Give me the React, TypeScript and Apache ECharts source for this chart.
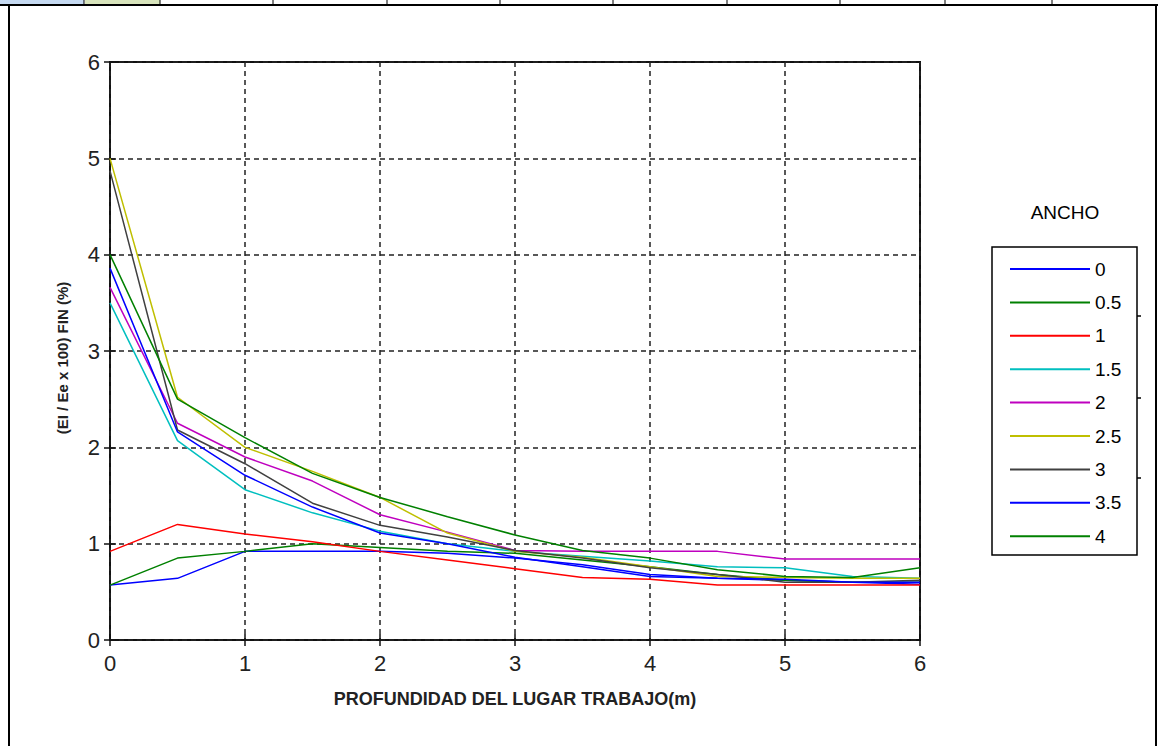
import React, { useEffect, useRef } from "react";
import * as echarts from "echarts";

const xValues = [0, 0.5, 1, 1.5, 2, 2.5, 3, 3.5, 4, 4.5, 5, 5.5, 6];
const seriesNames = ["0", "0.5", "1", "1.5", "2", "2.5", "3", "3.5", "4"];
const seriesColors = ["#0000ff", "#008000", "#ff0000", "#00bfbf", "#bf00bf", "#bfbf00", "#404040", "#0000ff", "#008000"];

const ancho0 = [0.57, 0.64, 0.92, 0.92, 0.92, 0.9, 0.85, 0.78, 0.68, 0.64, 0.62, 0.6, 0.58];
const ancho05 = [0.57, 0.85, 0.92, 1.0, 0.96, 0.92, 0.9, 0.83, 0.76, 0.68, 0.62, 0.6, 0.6];
const ancho1 = [0.92, 1.2, 1.1, 1.02, 0.92, 0.83, 0.74, 0.65, 0.63, 0.57, 0.57, 0.57, 0.57];
const ancho15 = [3.5, 2.07, 1.56, 1.32, 1.13, 1.0, 0.92, 0.87, 0.82, 0.76, 0.75, 0.66, 0.64];
const ancho2 = [3.66, 2.25, 1.9, 1.65, 1.3, 1.12, 0.93, 0.92, 0.92, 0.92, 0.84, 0.84, 0.84];
const ancho25 = [5.0, 2.52, 2.0, 1.75, 1.48, 1.11, 0.92, 0.86, 0.76, 0.66, 0.65, 0.64, 0.64];
const ancho3 = [4.87, 2.18, 1.83, 1.42, 1.19, 1.07, 0.93, 0.85, 0.75, 0.68, 0.6, 0.6, 0.62];
const ancho35 = [3.86, 2.16, 1.71, 1.38, 1.11, 1.0, 0.86, 0.76, 0.66, 0.64, 0.63, 0.6, 0.6];
const ancho4 = [4.0, 2.5, 2.1, 1.73, 1.48, 1.28, 1.09, 0.93, 0.85, 0.73, 0.66, 0.65, 0.75];
const seriesValues = [ancho0, ancho05, ancho1, ancho15, ancho2, ancho25, ancho3, ancho35, ancho4];

const xTitle = "PROFUNDIDAD DEL LUGAR TRABAJO(m)";
const yTitle = "(EI / Ee x 100) FIN (%)";
const legendTitle = "ANCHO";

export default function App() {
  const ref = useRef<HTMLDivElement>(null);
  useEffect(() => {
    document.body.style.margin = "0";
    const chart = echarts.init(ref.current!, null, { renderer: "svg" });
    const font = "Arial, 'Liberation Sans', sans-serif";
    const gridDash = { color: "#222", width: 1.5, type: [5, 4] as any };
    const cellBorders = [84, 160, 273, 387, 500, 613, 727, 840, 945, 1052];
    const graphics: any[] = [
      { type: "rect", shape: { x: 0, y: 0, width: 84, height: 5 }, style: { fill: "#c5d9f1" }, silent: true },
      { type: "rect", shape: { x: 85, y: 0, width: 75, height: 5 }, style: { fill: "#d8e4bc" }, silent: true },
      ...cellBorders.map((x) => ({ type: "line", shape: { x1: x, y1: 0, x2: x, y2: 5 }, style: { stroke: "#000", lineWidth: 1 }, silent: true })),
      { type: "line", shape: { x1: 0, y1: 5, x2: 1158, y2: 5 }, style: { stroke: "#000", lineWidth: 2 }, silent: true },
      { type: "line", shape: { x1: 9, y1: 5, x2: 9, y2: 746 }, style: { stroke: "#000", lineWidth: 2 }, silent: true },
      { type: "line", shape: { x1: 1156, y1: 5, x2: 1156, y2: 746 }, style: { stroke: "#000", lineWidth: 2 }, silent: true },
      { type: "rect", shape: { x: 992, y: 247, width: 145, height: 308 }, style: { fill: "#fff", stroke: "#000", lineWidth: 1.5 }, z: 1, silent: true },
      ...[316, 398, 478].map((y) => ({ type: "line", shape: { x1: 1137, y1: y, x2: 1141, y2: y }, style: { stroke: "#000", lineWidth: 1.5 }, silent: true })),
      { type: "text", x: 1065, y: 212, style: { text: legendTitle, font: `19px ${font}`, fill: "#000", textAlign: "center", textVerticalAlign: "middle" }, silent: true },
      { type: "text", x: 62, y: 358, rotation: Math.PI / 2, style: { text: yTitle, font: `bold 15px ${font}`, fill: "#222", textAlign: "center", textVerticalAlign: "middle" }, silent: true },
    ];
    const option: any = {
      animation: false,
      backgroundColor: "#fff",
      grid: { left: 110, right: 238, top: 62, bottom: 106, show: true, borderColor: "#111", borderWidth: 2, backgroundColor: "transparent" },
      legend: {
        orient: "vertical",
        left: 1005,
        top: 254,
        icon: "rect",
        itemWidth: 80,
        itemHeight: 2,
        itemGap: 13.4,
        itemTextGap: 12,
        textStyle: { fontSize: 19, color: "#000", fontFamily: font, lineHeight: 20 },
        data: seriesNames,
        z: 5,
      },
      xAxis: [
        {
          type: "value", min: 0, max: 6, interval: 1,
          name: xTitle, nameLocation: "middle", nameGap: 50,
          nameTextStyle: { fontSize: 18, fontWeight: "bold", color: "#222", fontFamily: font },
          axisLine: { show: false },
          axisTick: { show: true, inside: true, length: 6, lineStyle: { color: "#111", width: 1.5 } },
          axisLabel: { fontSize: 22, color: "#222", fontFamily: font, margin: 12 },
          splitLine: { show: true, lineStyle: gridDash },
        },
        {
          type: "value", min: 0, max: 6, interval: 1, position: "top",
          axisLine: { show: false },
          axisTick: { show: true, inside: true, length: 6, lineStyle: { color: "#111", width: 1.5 } },
          axisLabel: { show: false },
          splitLine: { show: false },
        },
      ],
      yAxis: [
        {
          type: "value", min: 0, max: 6, interval: 1,
          axisLine: { show: false },
          axisTick: { show: true, inside: true, length: 6, lineStyle: { color: "#111", width: 1.5 } },
          axisLabel: { fontSize: 22, color: "#222", fontFamily: font, margin: 10 },
          splitLine: { show: true, lineStyle: gridDash },
        },
        {
          type: "value", min: 0, max: 6, interval: 1, position: "right",
          axisLine: { show: false },
          axisTick: { show: true, inside: true, length: 6, lineStyle: { color: "#111", width: 1.5 } },
          axisLabel: { show: false },
          splitLine: { show: false },
        },
      ],
      series: seriesNames.map((name, i) => ({
        name,
        type: "line",
        symbol: "none",
        color: seriesColors[i],
        lineStyle: { color: seriesColors[i], width: 1.5 },
        data: xValues.map((x, j) => [x, seriesValues[i][j]]),
        z: 3,
      })),
      graphic: graphics,
    };
    chart.setOption(option);
    return () => chart.dispose();
  }, []);
  return <div ref={ref} style={{ width: 1158, height: 746 }} />;
}
